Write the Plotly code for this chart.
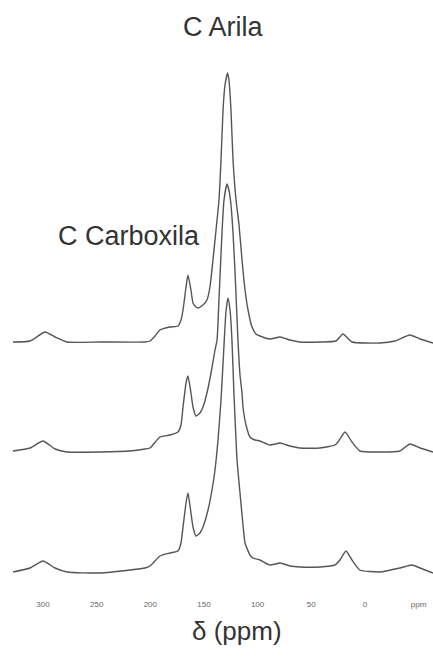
import plotly.graph_objects as go

# ---- data (ppm, intensity in arbitrary units) ----
ppm_top = [328.0, 312.1, 298.1, 288.8, 277.6, 246.9, 204.9, 200.3, 195.6, 191.0, 181.6, 174.2,
           171.4, 169.5, 166.7, 164.9, 162.1, 160.2, 157.4, 155.5, 150.9, 147.2, 144.4, 141.6,
           137.8, 136.0, 134.1, 132.2, 130.4, 128.0, 126.7, 124.8, 122.9, 120.1, 117.3, 114.5,
           111.7, 108.9, 105.2, 101.5, 97.8, 88.4, 79.1, 69.8, 60.5, 41.8, 26.9, 20.4, 12.0,
           -14.1, -28.0, -42.0, -51.4, -63.5]
int_top = [0, 1, 10, 5, 0, 0, 0, 1, 6, 12, 15, 16,
           22, 32, 55, 67, 52, 39, 35, 34, 37, 42, 55, 82,
           122, 142, 182, 232, 257, 269, 262, 232, 182, 142, 117, 82,
           52, 32, 15, 8, 6, 3, 5, 2, 0, 0, 1, 8, 0,
           -1, 1, 7, 3, -1]

ppm_mid = [328.0, 312.1, 300.0, 288.8, 277.6, 246.9, 218.9, 204.9, 200.3, 191.0, 181.6, 174.2,
           171.4, 169.5, 166.7, 164.9, 162.1, 160.2, 157.4, 153.7, 150.9, 147.2, 143.4, 139.7,
           137.8, 136.0, 133.2, 131.3, 128.5, 126.7, 124.8, 122.9, 121.1, 119.7, 118.3, 116.4,
           114.5, 113.6, 110.8, 107.1, 102.4, 97.8, 88.4, 79.1, 69.8, 60.5, 41.8, 27.9, 25.1,
           18.5, 12.0, 4.6, -14.1, -32.7, -42.0, -51.4, -63.5]
int_mid = [1, 4, 11, 3, 0, 0, 1, 3, 4, 15, 17, 20,
           27, 45, 69, 76, 59, 45, 36, 39, 45, 59, 79, 102,
           112, 152, 219, 252, 268, 262, 247, 219, 182, 147, 112, 77,
           59, 45, 27, 15, 12, 11, 7, 9, 6, 4, 4, 7, 10,
           20, 10, 1, 0, 1, 8, 4, 0]

ppm_bot = [328.0, 312.1, 300.0, 288.8, 277.6, 246.9, 218.9, 204.9, 200.3, 191.0, 181.6, 174.2,
           171.4, 169.5, 166.7, 164.9, 162.1, 160.2, 157.4, 153.7, 150.9, 146.2, 142.5, 139.7,
           136.9, 134.1, 131.3, 129.5, 127.6, 125.7, 123.9, 122.0, 120.1, 119.2, 116.4, 113.6,
           111.7, 107.1, 104.3, 97.8, 88.4, 79.1, 69.8, 60.5, 41.8, 27.9, 23.2, 17.6, 12.0,
           4.6, -14.1, -32.7, -43.9, -51.4, -63.5]
int_bot = [0, 4, 11, 4, 0, -1, 2, 4, 6, 16, 19, 21,
           29, 45, 69, 79, 59, 45, 36, 39, 45, 62, 82, 102,
           132, 172, 227, 260, 274, 262, 232, 177, 132, 112, 79, 47,
           29, 17, 14, 12, 7, 9, 6, 5, 5, 7, 12, 21, 12,
           2, 0, 4, 7, 4, -1]

tick_vals = [300, 250, 200, 150, 100, 50, 0, -50]
tick_text = ["300", "250", "200", "150", "100", "50", "0", "ppm"]

# ---- styling / layout constants ----
OFFSETS = [256, 146, 26]
LINE_COLOR = "#555555"
FONT = "Liberation Sans, Arial, sans-serif"

fig = go.Figure()
for xs, ys, off in [(ppm_top, int_top, OFFSETS[0]),
                    (ppm_mid, int_mid, OFFSETS[1]),
                    (ppm_bot, int_bot, OFFSETS[2])]:
    fig.add_trace(go.Scatter(x=xs, y=[v + off for v in ys], mode="lines",
                             line=dict(color=LINE_COLOR, width=1.4, shape="spline", smoothing=0.5),
                             showlegend=False, hoverinfo="skip"))

fig.add_annotation(x=132.2, y=571, xref="x", yref="y", text="C Arila", showarrow=False,
                   font=dict(family=FONT, size=27, color="#333333"),
                   xanchor="center", yanchor="middle")
fig.add_annotation(x=220.3, y=362, xref="x", yref="y", text="C Carboxila", showarrow=False,
                   font=dict(family=FONT, size=27, color="#333333"),
                   xanchor="center", yanchor="middle")
fig.add_annotation(x=0.547, y=-0.055, xref="paper", yref="paper", text="δ (ppm)",
                   showarrow=False, font=dict(family=FONT, size=26, color="#333333"),
                   xanchor="center", yanchor="middle")

fig.update_layout(
    width=433, height=664,
    margin=dict(l=0, r=0, t=0, b=66),
    paper_bgcolor="white", plot_bgcolor="white",
    xaxis=dict(range=[340.1, -63.5], tickvals=tick_vals, ticktext=tick_text,
               showgrid=False, zeroline=False, showline=False, ticks="",
               tickfont=dict(family=FONT, size=8, color="#666666")),
    yaxis=dict(range=[0, 598], visible=False, showgrid=False, zeroline=False),
)

fig.write_html("out.html")
